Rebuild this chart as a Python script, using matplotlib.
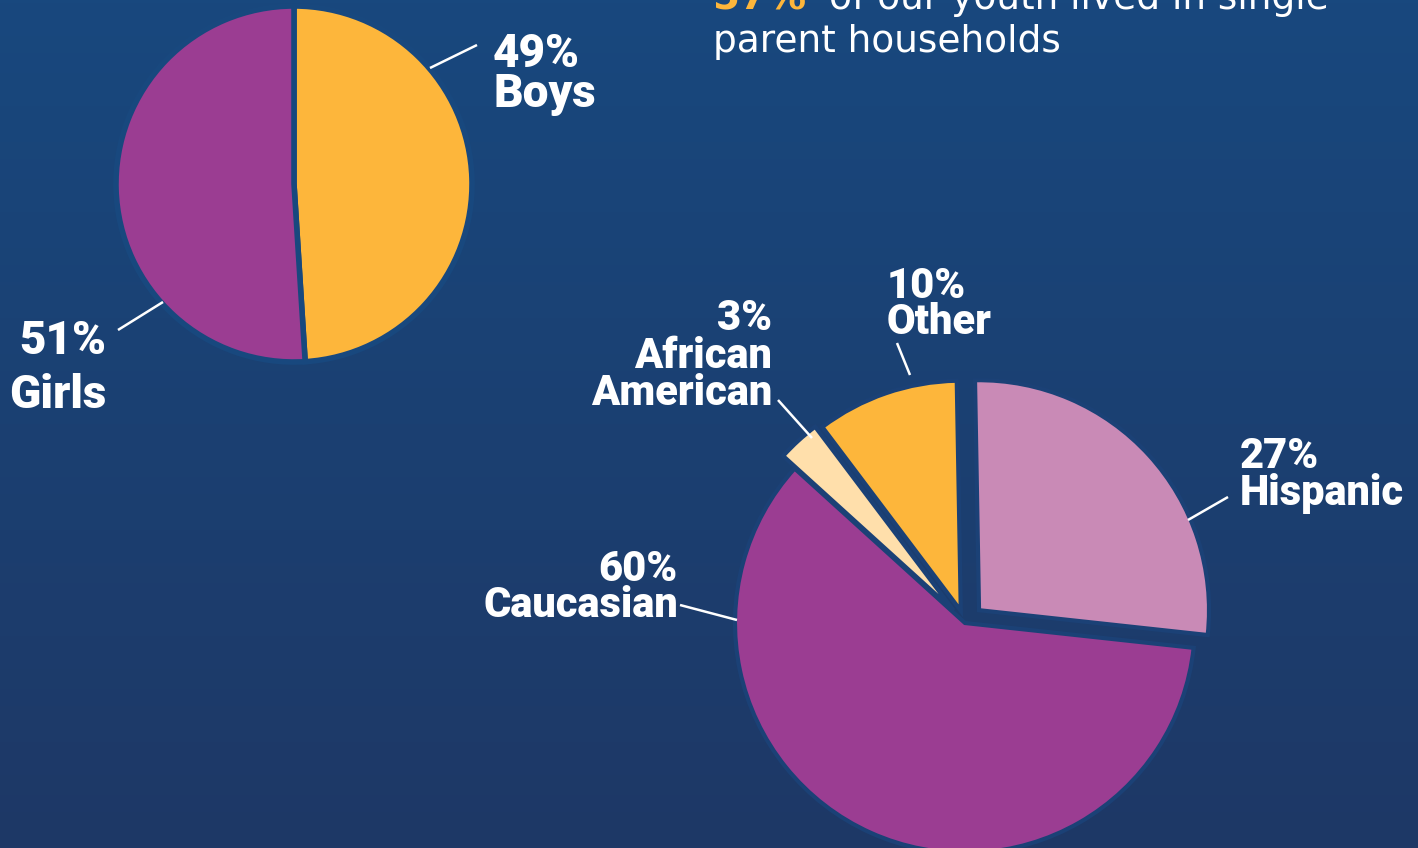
import numpy as np
import matplotlib.pyplot as plt
from matplotlib.colors import LinearSegmentedColormap

# Data
gender_labels = ["Boys", "Girls"]
gender_pct = [49, 51]
gender_colors = ["#FDB63B", "#9B3D92"]

eth_labels = ["Hispanic", "Caucasian", "African American", "Other"]
eth_pct = [27, 60, 3, 10]
eth_colors = ["#C98AB6", "#9B3D92", "#FFDFAB", "#FDB63B"]
eth_explode = [19, 0, 17, 13]  # in pixels (data units)

headline_pct = 57
headline_text = "of our youth lived in single"
headline_text2 = "parent households"

W, H = 1418, 848
BG_TOP = "#18487E"
BG_BOT = "#1E3866"
BG_MID = "#1B4176"
WHITE = "white"
ORANGE = "#FDB63B"
LABEL_FONT = dict(family=["Roboto", "Lato", "DejaVu Sans"], weight="black", color=WHITE)


def y(v):
    # image pixel row -> axis y
    return H - v


fig = plt.figure(figsize=(W / 100, H / 100), dpi=100)
ax = fig.add_axes([0, 0, 1, 1])
ax.set_xlim(0, W)
ax.set_ylim(0, H)
ax.set_aspect("equal")
ax.axis("off")

# background gradient
cmap = LinearSegmentedColormap.from_list("bg", [BG_BOT, BG_TOP])
grad = np.linspace(0, 1, 256).reshape(-1, 1)
ax.imshow(grad, cmap=cmap, extent=[0, W, 0, H], origin="lower", aspect="auto", zorder=0)

# gender pie
ax.pie(gender_pct, colors=gender_colors, startangle=90, counterclock=False,
       center=(294, y(184)), radius=178,
       wedgeprops=dict(edgecolor=BG_TOP, linewidth=4))

# ethnicity pie
ax.pie(eth_pct, colors=eth_colors, startangle=91, counterclock=False,
       explode=eth_explode, center=(965, y(623)), radius=230,
       wedgeprops=dict(edgecolor=BG_MID, linewidth=3))
ax.set_xlim(0, W)
ax.set_ylim(0, H)

big = 33
mid = 30


def label(pct, names, x, ha, baselines, size):
    ax.text(x, y(baselines[0]), f"{pct}%", ha=ha, va="baseline", fontsize=size, **LABEL_FONT)
    for name, b in zip(names, baselines[1:]):
        ax.text(x, y(b), name, ha=ha, va="baseline", fontsize=size, **LABEL_FONT)


label(gender_pct[0], ["Boys"], 493, "left", [67, 107], big)
label(gender_pct[1], ["Girls"], 106, "right", [354, 408], big)
label(eth_pct[2], ["African", "American"], 772, "right", [330, 368, 405], mid)
label(eth_pct[3], ["Other"], 887, "left", [298, 334], mid)
label(eth_pct[0], ["Hispanic"], 1240, "left", [468, 505], mid)
label(eth_pct[1], ["Caucasian"], 678, "right", [581, 617], mid)

# connector lines
connectors = [
    ((430, 68), (477, 45)),
    ((118, 330), (163, 302)),
    ((778, 400), (812, 438)),
    ((897, 343), (910, 375)),
    ((1228, 497), (1188, 520)),
    ((680, 605), (737, 620)),
]
for (x0, y0), (x1, y1) in connectors:
    ax.plot([x0, x1], [y(y0), y(y1)], color=WHITE, lw=1.8, solid_capstyle="butt", zorder=5)

# headline text (partly cut at top, as in the original)
ax.text(713, y(9), f"{headline_pct}%", ha="left", va="baseline", fontsize=28,
        family=["DejaVu Sans"], weight="bold", color=ORANGE)
ax.text(829, y(9), headline_text, ha="left", va="baseline", fontsize=27,
        family=["DejaVu Sans"], color=WHITE)
ax.text(713, y(52), headline_text2, ha="left", va="baseline", fontsize=27,
        family=["DejaVu Sans"], color=WHITE)

fig.savefig("out.png", dpi=100)
